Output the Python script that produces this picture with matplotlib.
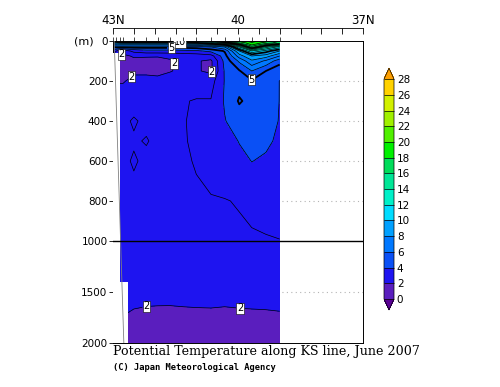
import numpy as np
import matplotlib
matplotlib.use("Agg")
import matplotlib.pyplot as plt
from matplotlib.colors import ListedColormap

# station latitudes (columns) and sampling depths (rows)
lats = [43.0, 42.92, 42.84, 42.76, 42.5, 42.2, 41.93, 41.63, 41.32, 41.0,
        40.65, 40.32, 39.97, 39.67, 39.33, 39.0]
depths = [0, 10, 20, 30, 50, 75, 100, 150, 200, 300, 400, 500, 600, 800,
          1000, 1200, 1400, 1600, 1800, 2000]

# potential temperature (degC), one row per depth
temp = [
    [10.5, 11.0, 11.5, 11.5, 11.5, 11.5, 11.5, 11.5, 11.5, 12.0, 14.0, 17.0, 18.5, 19.5, 18.5, 17.0],
    [8.5, 9.0, 9.2, 9.3, 9.3, 9.3, 9.3, 9.3, 9.5, 9.8, 11.0, 14.0, 17.0, 18.8, 17.5, 16.5],
    [6.5, 7.0, 7.0, 7.0, 7.0, 7.0, 7.0, 7.0, 7.2, 7.5, 8.5, 9.5, 14.5, 18.0, 15.5, 14.0],
    [5.0, 5.3, 5.4, 5.4, 5.4, 5.4, 5.4, 5.4, 5.4, 5.5, 6.0, 7.0, 12.0, 16.5, 13.5, 11.5],
    [3.4, 3.0, 2.4, 2.4, 3.3, 3.6, 3.6, 3.6, 3.7, 3.8, 4.3, 5.1, 9.0, 12.0, 10.5, 9.0],
    [2.8, 2.3, 1.8, 1.8, 2.1, 2.1, 2.1, 2.2, 2.3, 2.4, 2.6, 4.6, 7.5, 9.0, 8.5, 7.0],
    [2.5, 2.2, 1.7, 1.7, 1.8, 1.7, 1.6, 1.9, 2.2, 2.1, 1.8, 4.3, 6.2, 7.8, 6.8, 5.4],
    [2.4, 2.2, 1.6, 1.6, 1.8, 1.8, 1.7, 1.95, 2.2, 2.1, 1.8, 4.1, 4.9, 6.0, 5.0, 4.3],
    [2.4, 2.3, 1.9, 1.9, 2.3, 2.3, 2.3, 2.4, 2.5, 2.6, 2.6, 4.05, 4.6, 4.9, 4.6, 3.98],
    [2.6, 2.6, 2.7, 2.7, 2.8, 2.8, 2.8, 2.9, 2.95, 3.05, 3.05, 4.1, 5.1, 4.7, 4.5, 3.98],
    [2.8, 2.8, 2.9, 2.9, 3.05, 2.9, 2.9, 2.95, 2.95, 3.15, 3.2, 3.95, 4.5, 4.6, 4.4, 3.95],
    [2.8, 2.8, 2.85, 2.9, 2.95, 3.03, 2.9, 2.9, 2.95, 3.1, 3.15, 3.5, 4.05, 4.4, 4.2, 3.8],
    [2.8, 2.8, 2.85, 2.9, 3.05, 2.9, 2.85, 2.85, 2.9, 3.05, 3.1, 3.3, 3.7, 4.02, 3.85, 3.6],
    [2.7, 2.7, 2.75, 2.8, 2.85, 2.8, 2.8, 2.8, 2.85, 2.9, 2.98, 2.98, 3.03, 3.1, 3.15, 3.2],
    [2.6, 2.6, 2.6, 2.6, 2.6, 2.6, 2.6, 2.6, 2.65, 2.7, 2.75, 2.8, 2.92, 2.95, 2.97, 2.99],
    [2.45, 2.45, 2.45, 2.45, 2.45, 2.45, 2.45, 2.45, 2.45, 2.45, 2.45, 2.45, 2.45, 2.45, 2.45, 2.45],
    [2.3, 2.3, 2.3, 2.3, 2.3, 2.3, 2.3, 2.3, 2.3, 2.3, 2.3, 2.3, 2.3, 2.3, 2.3, 2.3],
    [2.1, 2.1, 2.1, 2.1, 2.06, 2.04, 2.03, 2.02, 2.04, 2.05, 2.06, 2.04, 2.05, 2.06, 2.07, 2.08],
    [1.95, 1.95, 1.95, 1.95, 1.88, 1.85, 1.86, 1.9, 1.86, 1.86, 1.85, 1.86, 1.88, 1.88, 1.88, 1.9],
    [1.8, 1.8, 1.8, 1.8, 1.8, 1.8, 1.8, 1.8, 1.8, 1.8, 1.8, 1.8, 1.8, 1.8, 1.8, 1.8],
]

fill_levels = [0, 2, 4, 6, 8, 10, 12, 14, 16, 18, 20, 22, 24, 26, 28]
line_levels = [1, 3, 4, 6, 7, 8, 9, 11, 12, 13, 14, 15, 16, 17, 18, 19, 20]
label_levels = [2, 5, 10]
fill_colors = ['#5a1ebe', '#1e14f0', '#0a50f5', '#0078ff', '#00a0ff', '#00dcff',
               '#00f0c8', '#00e696', '#00dc5a', '#00f000', '#50f000', '#a0f000',
               '#d2f000', '#ffd200']
under_color = '#5a0096'
over_color = '#ffa000'

# where the contour labels sit (lat, depth)
label_spots = [(41.4, 5), (41.6, 35), (39.7, 200), (42.8, 63), (41.6, 110),
               (40.67, 150), (42.47, 205), (42.2, 1640), (39.95, 1660)]

# no-data area near the coast (white) and the bottom slope line
step_lat = [43.0, 42.83, 42.83, 42.64, 42.64]
step_depth = [60, 60, 1400, 1400, 2000]
slope_lat = [42.97, 42.74]
slope_depth = [0, 2000]

depth_ticks = [0, 200, 400, 600, 800, 1000, 1500, 2000]
grid_depths = [200, 400, 600, 800, 1500]
lat_ticks = [43, 42.5, 42, 41.5, 41, 40.5, 40, 39.5, 39, 38.5, 38, 37.5, 37]
lat_names = ['43N', '', '', '', '', '', '40', '', '', '', '', '', '37N']


def fwd(d):
    d = np.asarray(d, dtype=float)
    return np.where(d <= 1000, d, 1000 + (d - 1000) * 0.51)


def inv(y):
    y = np.asarray(y, dtype=float)
    return np.where(y <= 1000, y, 1000 + (y - 1000) / 0.51)


fig = plt.figure(figsize=(5, 3.87), dpi=100)
ax = fig.add_axes([0.226, 0.1137, 0.5, 0.7804])
ax.set_yscale('function', functions=(fwd, inv))

X, Y = np.meshgrid(lats, depths)
T = np.array(temp)

cmap = ListedColormap(fill_colors)
cmap.set_under(under_color)
cmap.set_over(over_color)

cf = ax.contourf(X, Y, T, levels=fill_levels, cmap=cmap, extend='both', zorder=1)
ax.contour(X, Y, T, levels=line_levels, colors='black',
           linewidths=[1.3 if l % 5 == 0 else 0.5 for l in line_levels], zorder=2)
cs = ax.contour(X, Y, T, levels=label_levels, colors='black',
                linewidths=[0.5, 1.3, 1.3], zorder=2)
ax.set_xlim(43, 37)
ax.set_ylim(2000, 0)
lbls = ax.clabel(cs, fmt='%d', fontsize=7, inline=True,
                 inline_spacing=1, manual=label_spots)
for t in lbls:
    t.set_rotation(0)
    t.set_zorder(6)
    t.set_bbox(dict(facecolor='white', edgecolor='black', linewidth=0.4, pad=0.4))

ax.fill_between(step_lat, step_depth, 2000, color='white', zorder=3, lw=0)
ax.plot(slope_lat, slope_depth, color='#808080', lw=0.6, zorder=4)
ax.axhline(1000, color='black', lw=1.0, zorder=5)

for g in grid_depths:
    ax.axhline(g, color='#b4b4b4', lw=0.8, ls=(0, (1, 3)), zorder=0.5)

ax.set_yticks(depth_ticks)
ax.set_yticklabels([str(d) for d in depth_ticks])
ax.tick_params(axis='y', direction='out', length=3, width=0.6, labelsize=7.5, pad=1)

ax.xaxis.set_ticks_position('top')
ax.set_xticks(lats)
ax.set_xticklabels([])
ax.tick_params(axis='x', direction='out', length=3, width=0.5)
for sp in ax.spines.values():
    sp.set_linewidth(0.7)

sec = ax.secondary_xaxis(1 + 13 / 302)
sec.set_xticks(lat_ticks)
sec.set_xticklabels(lat_names)
sec.tick_params(direction='in', length=4, width=0.6, labelsize=8.5, pad=1)
sec.spines['top'].set_linewidth(0.6)

fig.text(0.168, 1 - 42 / 387, '(m)', ha='center', va='center', fontsize=8)

cax = fig.add_axes([0.768, 0.199, 0.02, 0.625])
cb = fig.colorbar(cf, cax=cax, ticks=fill_levels, drawedges=True)
cb.outline.set_linewidth(0.5)
cb.dividers.set_linewidth(0.5)
cax.tick_params(length=0, labelsize=7.5, pad=2)

fig.text(113 / 500, 1 - 352 / 387, 'Potential Temperature along KS line, June 2007',
         ha='left', va='center', fontsize=9.1, family='DejaVu Serif')
fig.text(113 / 500, 1 - 367 / 387, '(C) Japan Meteorological Agency',
         ha='left', va='center', fontsize=6.3, family='DejaVu Sans Mono', weight='bold')

fig.savefig('out.png', dpi=100)
